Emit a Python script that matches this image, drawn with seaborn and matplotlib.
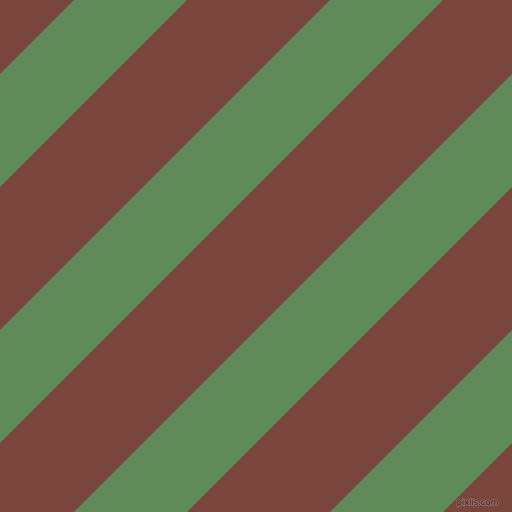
import numpy as np
import matplotlib
matplotlib.use("Agg")
import matplotlib.pyplot as plt
import matplotlib.patheffects as pe
import seaborn as sns

# Stripe boundaries along the diagonal (x + y = c, in pixel units)
green_starts = [74, 330, 586, 842]
green_ends = [187, 443, 699, 955]
brown_color = "#79453C"
green_color = "#5F8B5A"
watermark = "pixlis.com"

sns.set_theme(style="white")

fig = plt.figure(figsize=(5.12, 5.12), dpi=100)
ax = fig.add_axes([0, 0, 1, 1])
ax.set_xlim(0, 512)
ax.set_ylim(512, 0)

xs = np.array([-20.0, 532.0])
# brown background band covering the whole square
ax.fill_between(xs, -100 - xs, 1200 - xs, color=brown_color, linewidth=0)
for c1, c2 in zip(green_starts, green_ends):
    ax.fill_between(xs, c1 - xs, c2 - xs, color=green_color, linewidth=0)

ax.text(499, 505, watermark, ha="right", va="baseline", fontsize=6,
        color="#2e1e1c", family="DejaVu Sans",
        path_effects=[pe.withStroke(linewidth=1.2, foreground="#9a7068")])

ax.axis("off")
fig.savefig("out.png", dpi=100, facecolor=brown_color)
